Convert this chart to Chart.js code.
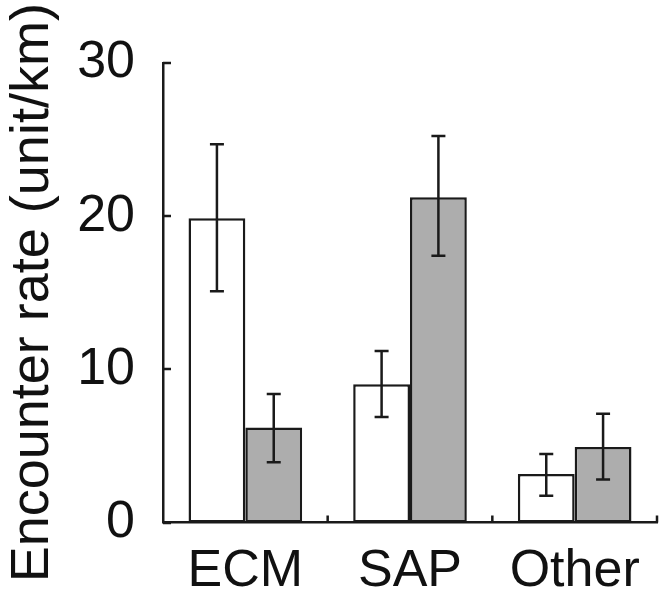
<!DOCTYPE html>
<html>
<head>
<meta charset="utf-8">
<script src="https://cdn.jsdelivr.net/npm/chart.js@4.4.1/dist/chart.umd.min.js"></script>
<style>
  html, body { margin: 0; padding: 0; background: #fff; }
  #wrap { width: 662px; height: 591px; }
</style>
</head>
<body>
<div id="wrap"><canvas id="c" width="662" height="591"></canvas></div>
<script>
const categories = ["ECM", "SAP", "Other"];
const seriesA = [19.86, 9.02, 3.17];
const seriesAErrLow = [15.1, 6.89, 1.75];
const seriesAErrHigh = [24.69, 11.19, 4.47];
const seriesB = [6.21, 21.23, 4.93];
const seriesBErrLow = [3.93, 17.42, 2.8];
const seriesBErrHigh = [8.39, 25.23, 7.1];
const yTicks = [0, 10, 20, 30];

const INK = '#1a1a1a';
const FONT = '"Liberation Sans", Arial, Helvetica, sans-serif';

const errorBars = {
  id: 'errorBars',
  afterDatasetsDraw(chart) {
    const ctx = chart.ctx;
    const y = chart.scales.y;
    const errs = [[seriesAErrLow, seriesAErrHigh], [seriesBErrLow, seriesBErrHigh]];
    ctx.save();
    ctx.strokeStyle = INK;
    ctx.lineWidth = 2.5;
    chart.data.datasets.forEach((ds, di) => {
      const meta = chart.getDatasetMeta(di);
      meta.data.forEach((bar, i) => {
        const x = bar.x;
        const lo = y.getPixelForValue(errs[di][0][i]);
        const hi = y.getPixelForValue(errs[di][1][i]);
        ctx.beginPath();
        ctx.moveTo(x, lo); ctx.lineTo(x, hi);
        ctx.moveTo(x - 7, lo); ctx.lineTo(x + 7, lo);
        ctx.moveTo(x - 7, hi); ctx.lineTo(x + 7, hi);
        ctx.stroke();
      });
    });
    // inward ticks
    const xs = chart.scales.x;
    const area = chart.chartArea;
    ctx.beginPath();
    yTicks.forEach(v => {
      const py = Math.round(y.getPixelForValue(v));
      ctx.moveTo(area.left, py); ctx.lineTo(area.left + 8, py);
    });
    const catW = (area.right - area.left) / categories.length;
    for (let i = 0; i < categories.length; i++) {
      const px = xs.getPixelForValue(i) + catW / 2;
      ctx.moveTo(px, area.bottom); ctx.lineTo(px, area.bottom - 7);
    }
    ctx.stroke();
    ctx.restore();
  }
};

new Chart(document.getElementById('c'), {
  type: 'bar',
  data: {
    labels: categories,
    datasets: [
      { label: 'A', data: seriesA, backgroundColor: '#ffffff', borderColor: INK, borderWidth: 2.5, borderSkipped: false },
      { label: 'B', data: seriesB, backgroundColor: '#adadad', borderColor: INK, borderWidth: 2.5, borderSkipped: false }
    ]
  },
  options: {
    responsive: false,
    animation: false,
    devicePixelRatio: 1,
    layout: { padding: { top: 63, right: 5, left: 0, bottom: 0 } },
    plugins: { legend: { display: false }, tooltip: { enabled: false } },
    datasets: { bar: { barPercentage: 1.0, categoryPercentage: 0.69 } },
    scales: {
      x: {
        grid: { display: false },
        border: { display: true, color: INK, width: 2.5 },
        ticks: { color: '#111', font: { family: FONT, size: 52 }, padding: 10, maxRotation: 0 },
        afterFit(s) { s.height = 68.5; }
      },
      y: {
        min: 0, max: 30,
        grid: { display: false },
        border: { display: true, color: INK, width: 2.5 },
        ticks: { stepSize: 10, color: '#111', font: { family: FONT, size: 52 }, padding: 20 },
        title: { display: true, text: 'Encounter rate (unit/km)', color: '#111', font: { family: FONT, size: 54 }, padding: { top: 1, bottom: 0 } },
        afterFit(s) { s.width = 163; }
      }
    }
  },
  plugins: [errorBars]
});
</script>
</body>
</html>
